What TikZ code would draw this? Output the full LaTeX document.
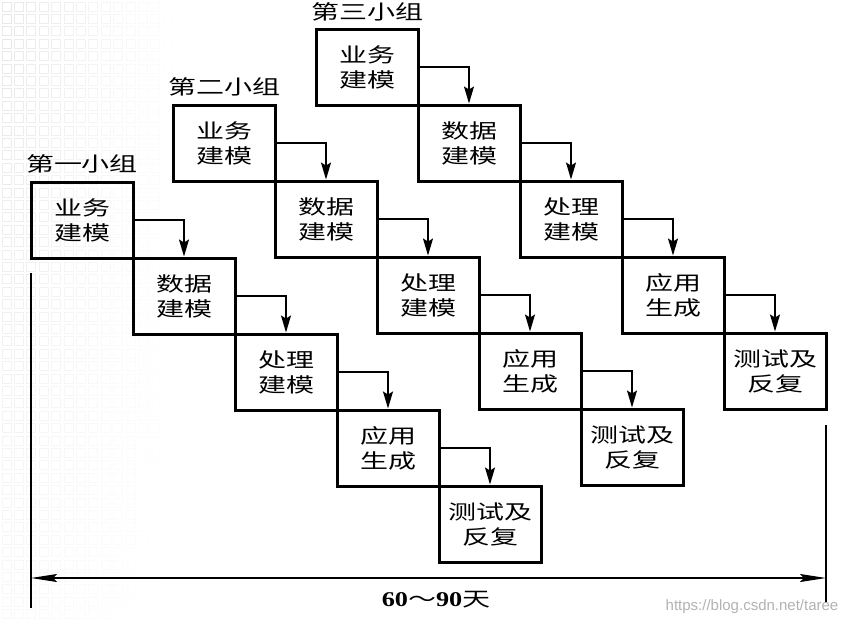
\documentclass[tikz,border=0pt]{standalone}
\usepackage{fontspec}
\usetikzlibrary{arrows.meta}
\newfontfamily\cjk[FakeStretch=1.4]{Noto Sans CJK SC}
\newfontfamily\numfont[FakeStretch=1.25]{Liberation Serif}
\newfontfamily\wmfont{Liberation Sans}
\begin{document}
\begin{tikzpicture}[x=1pt,y=-1pt,
  stagebox/.style={draw,line width=3pt,minimum width=102pt,minimum height=76pt,inner sep=0pt,
    align=center,font=\cjk\fontsize{20}{25}\selectfont},
  grouplabel/.style={font=\cjk\fontsize{20}{25}\selectfont,inner sep=0pt},
  flow/.style={line width=1.4pt,-{Stealth[length=17pt,width=10pt,inset=3pt]}},
  dimline/.style={line width=1.2pt},
  dimarrow/.style={line width=1.2pt,{Stealth[length=26pt,width=8pt,inset=4pt]}-{Stealth[length=26pt,width=8pt,inset=4pt]}}]
\useasboundingbox (0,0) rectangle (851,625);
% faint background grid
\foreach \i in {0,...,13}{
  \foreach \j in {0,...,49}{
    \pgfmathsetmacro{\op}{max(0,0.09*(1-\i/14)*(1-\j/70))}
    \draw[black,draw opacity=\op,line width=0.8pt] ({2+12.4*\i},{2+12.4*\j}) rectangle ++(9,9);
  }
}
% stages
\foreach \g/\gx/\gy in {a/0/0,b/142/-77,c/285/-153}{
  \foreach \i/\txt in {0/{业务\\建模},1/{数据\\建模},2/{处理\\建模},3/{应用\\生成},4/{测试及\\反复}}{
    \node[stagebox] (\g\i) at ({82+\gx+102*\i},{220+\gy+76*\i}) {\txt};
  }
}
\node[grouplabel] (la) at ([yshift=17pt]a0.north) {第一小组};
\node[grouplabel] (lb) at ([yshift=17pt]b0.north) {第二小组};
\node[grouplabel] (lc) at ([yshift=16pt]c0.north) {第三小组};
\foreach \gn in {a,b,c}{
  \foreach \i/\k in {0/1,1/2,2/3,3/4}{
    \draw[flow] (\gn\i.east) -| (\gn\k.north);
  }
}
% dimension
\coordinate (L1) at (31,273);
\coordinate (L2) at (31,608);
\coordinate (R1) at (826,425);
\coordinate (R2) at (826,603);
\coordinate (A) at (31,578);
\coordinate (B) at (826,578);
\draw[dimline] (L1) -- (L2);
\draw[dimline] (R1) -- (R2);
\draw[dimarrow] (A) -- (B);
\node[inner sep=0pt] (span) at (436,600) {\numfont\bfseries\fontsize{21}{24}\selectfont 60{\cjk\mdseries\fontsize{20}{24}\selectfont ～}90{\cjk\mdseries\fontsize{20}{24}\selectfont 天}};
\node[inner sep=0pt,text=black!30] (wm) at (752,607) {\wmfont\fontsize{15}{18}\selectfont https://blog.csdn.net/taree};
\end{tikzpicture}
\end{document}
